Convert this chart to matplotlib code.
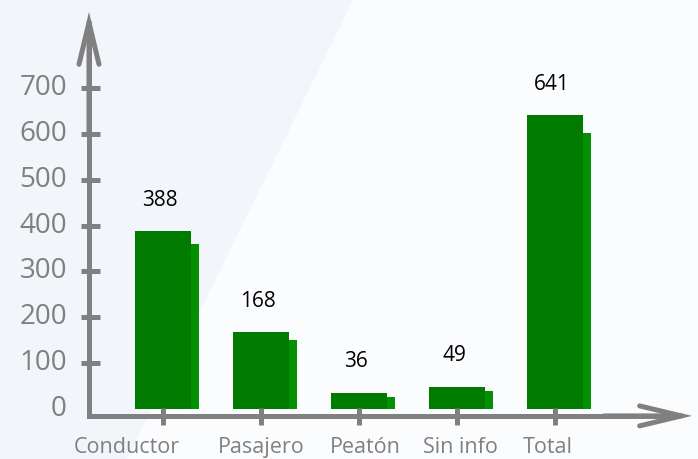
import numpy as np
import matplotlib
matplotlib.use("Agg")
import matplotlib.pyplot as plt
from matplotlib.patches import Polygon

# Data
categories = ["Conductor", "Pasajero", "Peatón", "Sin info", "Total"]
values = [388, 168, 36, 49, 641]
y_ticks = [0, 100, 200, 300, 400, 500, 600, 700]

# Style
FRONT = "#007b00"
BACK = "#039003"
GREY = "#808080"
plt.rcParams["font.family"] = ["Open Sans", "DejaVu Sans"]

W, H, DPI = 698, 459, 100
fig = plt.figure(figsize=(W / DPI, H / DPI), dpi=DPI)
fig.patch.set_facecolor("#fbfcfe")

# soft diagonal panel on the left side of the background
bg = fig.add_axes([0, 0, 1, 1], zorder=-1)
bg.axis("off")
bg.set_xlim(0, 1)
bg.set_ylim(0, 1)
bg.add_patch(Polygon([(0, 0), (0, 1), (353 / W, 1), (127 / W, 0)], closed=True,
                     facecolor="#f2f5f9", edgecolor="none"))

ax = fig.add_axes([0, 0, 1, 1], zorder=1)
ax.set_facecolor("none")
ax.axis("off")
ax.set_xlim(-1.663, 5.459)
ax.set_ylim(-109, 892)

x = np.arange(len(categories))
bar_w = 0.571
shade_dx = 0.082
shadow = [0.95 * v - 8 for v in values]

ax.bar(x + shade_dx, shadow, width=bar_w, color=BACK, zorder=2)
ax.bar(x, values, width=bar_w, color=FRONT, zorder=3)

# axes drawn as thick grey arrows
ax_x, ax_y = -0.755, -15
y_tip, x_tip = 866, 5.398
lw = 3.6
ax.plot([ax_x, ax_x, x_tip - 0.2], [y_tip - 20, ax_y, ax_y], color=GREY, lw=lw,
        solid_joinstyle="miter", solid_capstyle="butt", zorder=4)
arrow = dict(arrowstyle="->,head_length=3.0,head_width=0.72", lw=lw, color=GREY,
             shrinkA=0, shrinkB=0, joinstyle="miter")
ax.annotate("", xy=(ax_x, y_tip), xytext=(ax_x, 600), arrowprops=arrow, zorder=4)
ax.annotate("", xy=(x_tip, ax_y), xytext=(4.5, ax_y), arrowprops=arrow, zorder=4)

# y ticks and labels
for t in y_ticks:
    if t > 0:
        ax.plot([-0.837, -0.643], [t, t], color=GREY, lw=lw, solid_capstyle="butt", zorder=4)
    ax.text(-0.98, t, str(t), ha="right", va="center", fontsize=20, color=GREY)

# x ticks and category labels
label_dx = [-36, 0, 6, 3, -7]
for i, cat in enumerate(categories):
    ax.plot([i, i], [-35, 2], color=GREY, lw=lw, solid_capstyle="butt", zorder=5)
    ax.annotate(cat, (i, -83), xytext=(label_dx[i] * 0.72, 0), textcoords="offset points",
                ha="center", va="center", fontsize=15.5, color=GREY)

# value labels above bars
for i, v in enumerate(values):
    ax.annotate(str(v), (i, v), xytext=(-2, 22), textcoords="offset points",
                ha="center", va="center", fontsize=15, color="black")

fig.savefig("out.png", dpi=DPI, facecolor=fig.get_facecolor())
